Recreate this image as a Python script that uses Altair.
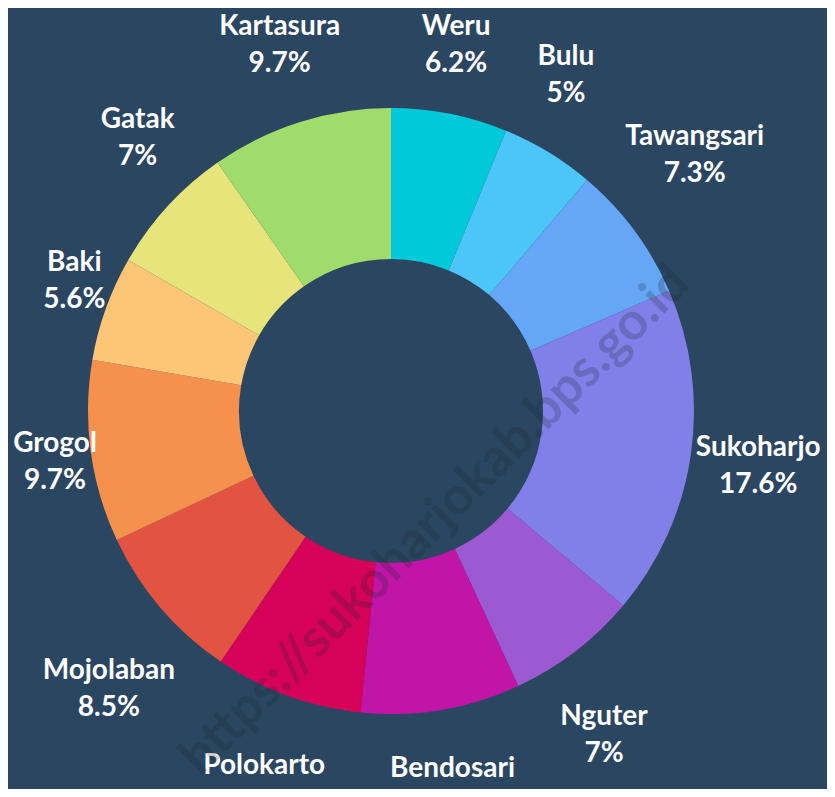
import altair as alt
import pandas as pd

names = ["Weru", "Bulu", "Tawangsari", "Sukoharjo", "Nguter", "Bendosari",
         "Polokarto", "Mojolaban", "Grogol", "Baki", "Gatak", "Kartasura"]
values = [6.2, 5, 7.3, 17.6, 7, 8.5, 7.9, 8.5, 9.7, 5.6, 7, 9.7]
colors = ["#00c9d9", "#4cc5f9", "#66a6f6", "#8080e8", "#9c5ad2", "#c015a6",
          "#d6025a", "#e25342", "#f6914d", "#fdc677", "#e6e47a", "#9fdc6c"]

df = pd.DataFrame({"idx": list(range(len(names))), "name": names, "value": values})

BG = "#2a4661"
CX, CY = 383, 403
R_OUT, R_IN = 303, 152
LINE_H = 37

base = alt.Chart(df)

arcs = base.mark_arc(outerRadius=R_OUT, innerRadius=R_IN, strokeWidth=0).encode(
    theta=alt.Theta("value:Q", stack=True),
    order=alt.Order("idx:Q"),
    color=alt.Color("name:N", scale=alt.Scale(domain=names, range=colors), legend=None),
    x=alt.value(CX),
    y=alt.value(CY),
)

labels = base.transform_window(
    cum="sum(value)", sort=[alt.SortField("idx")]
).transform_joinaggregate(
    total="sum(value)"
).transform_calculate(
    ang="(datum.cum - datum.value / 2) / datum.total * 2 * PI",
    lx=f"max(47, {CX} + sin(datum.ang) * (309 + 6.9 * length(datum.name)))",
    ly=f"max(19, 403.6 - cos(datum.ang) * (375 + 6 * length(datum.name) * pow(sin(2 * datum.ang), 2)) - {LINE_H / 2})",
    label="datum.name + '\\n' + datum.value + '%'",
).mark_text(
    font="Lato", fontWeight="bold", fontSize=28, color="white",
    lineBreak="\n", lineHeight=LINE_H, align="center", baseline="middle",
).encode(
    x=alt.X("lx:Q", scale=None),
    y=alt.Y("ly:Q", scale=None),
    text="label:N",
)

watermark = alt.Chart(pd.DataFrame({"t": ["https://sukoharjokab.bps.go.id"]})).mark_text(
    font="Lato", fontWeight="bold", fontSize=52, angle=315, color="#1c2530",
    opacity=0.22, align="center", baseline="middle",
).encode(
    text="t:N", x=alt.value(427), y=alt.value(512),
)

chart = alt.layer(arcs, labels, watermark).properties(
    width=819, height=781, background=BG, padding=0,
    autosize=alt.AutoSizeParams(type="none"),
).configure_view(stroke=None)

chart.save("out.html", embed_options={"renderer": "svg", "actions": False})
